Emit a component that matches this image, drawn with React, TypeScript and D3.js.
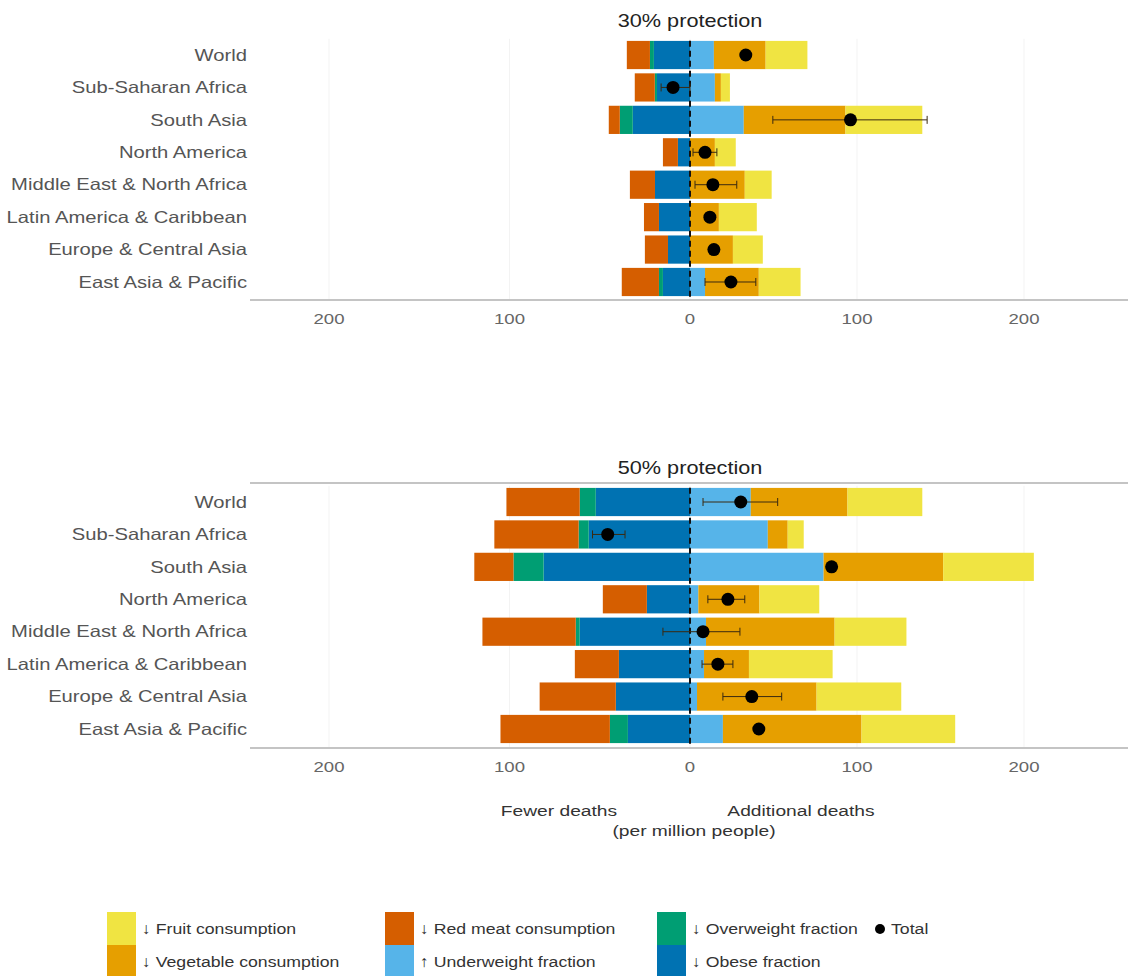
import React from "react";
import * as d3 from "d3";

const regions = [
  "World",
  "Sub-Saharan Africa",
  "South Asia",
  "North America",
  "Middle East & North Africa",
  "Latin America & Caribbean",
  "Europe & Central Asia",
  "East Asia & Pacific",
];

// 30% protection
const obese30 = [20, 18.3, 31.7, 6.7, 19.4, 17.2, 12.2, 15];
const overweight30 = [2.2, 1.2, 7.2, 0, 0, 0, 0, 2.2];
const redMeat30 = [12.8, 11.1, 6.1, 8.3, 13.9, 8.3, 12.8, 20.6];
const underweight30 = [14.3, 14.9, 32.2, 0, 0, 0, 0, 9];
const vegetable30 = [31, 3.6, 60.9, 14.9, 32.8, 17.3, 25.7, 32.2];
const fruit30 = [25, 5.4, 46, 12.5, 16.1, 22.7, 17.9, 25];
const total30 = [33.4, -9.4, 96.1, 9, 13.7, 11.9, 14.3, 24.5];
const lower30: (number | null)[] = [null, -16, 49.6, 1.8, 3, null, null, 9];
const upper30: (number | null)[] = [null, 0, 142, 16.1, 28, null, null, 39.4];

// 50% protection
const obese50 = [52.2, 56.1, 81.1, 23.9, 61.1, 39.4, 41.1, 34.4];
const overweight50 = [8.9, 5.6, 16.7, 0, 2.2, 0, 0, 10];
const redMeat50 = [40.6, 46.7, 21.7, 24.4, 51.7, 24.4, 42.2, 60.6];
const underweight50 = [36.4, 46.6, 80, 5, 9.6, 8.4, 4.2, 19.7];
const vegetable50 = [57.9, 11.9, 71.6, 36.6, 77, 26.9, 71.6, 83];
const fruit50 = [44.8, 9.6, 54.3, 35.8, 43, 50.1, 50.7, 56.1];
const total50 = [30.4, -45.6, 84.8, 22.7, 7.8, 16.7, 37, 41.2];
const lower50: (number | null)[] = [7.8, -54, null, 10.7, -15, 7.2, 19.7, null];
const upper50: (number | null)[] = [52.5, -36, null, 32.8, 29.9, 25.7, 54.9, null];

const tickValues = [-200, -100, 0, 100, 200];
const tickLabels = ["200", "100", "0", "100", "200"];

const COLORS = {
  fruit: "#F0E442",
  vegetable: "#E69F00",
  redMeat: "#D55E00",
  underweight: "#56B4E9",
  overweight: "#009E73",
  obese: "#0072B2",
};

const legendItems = [
  { label: "↓ Fruit consumption", color: COLORS.fruit, col: 0, row: 0 },
  { label: "↓ Vegetable consumption", color: COLORS.vegetable, col: 0, row: 1 },
  { label: "↓ Red meat consumption", color: COLORS.redMeat, col: 1, row: 0 },
  { label: "↑ Underweight fraction", color: COLORS.underweight, col: 1, row: 1 },
  { label: "↓ Overweight fraction", color: COLORS.overweight, col: 2, row: 0 },
  { label: "↓ Obese fraction", color: COLORS.obese, col: 2, row: 1 },
];

const FONT = "'Liberation Sans', Arial, Helvetica, sans-serif";
const SX = 1.24; // horizontal stretch of the text in the reference

const panels = [
  {
    title: "30% protection",
    titleY: 27,
    band: [38.8, 298.2],
    axisY: 300,
    topLine: null as number | null,
    neg: [obese30, overweight30, redMeat30],
    pos: [underweight30, vegetable30, fruit30],
    total: total30,
    lower: lower30,
    upper: upper30,
  },
  {
    title: "50% protection",
    titleY: 474,
    band: [485.8, 745.2],
    axisY: 748,
    topLine: 483,
    neg: [obese50, overweight50, redMeat50],
    pos: [underweight50, vegetable50, fruit50],
    total: total50,
    lower: lower50,
    upper: upper50,
  },
];

const negColors = [COLORS.obese, COLORS.overweight, COLORS.redMeat];
const posColors = [COLORS.underweight, COLORS.vegetable, COLORS.fruit];

const x = d3.scaleLinear().domain([-200, 0, 200]).range([329, 690, 1024]);
const AXIS_X0 = 250;
const AXIS_X1 = 1128;

function T({
  x,
  y,
  anchor = "start",
  size = 15.5,
  fill = "#333",
  dy,
  sx = SX,
  children,
}: {
  x: number;
  y: number;
  anchor?: string;
  size?: number;
  fill?: string;
  dy?: string;
  sx?: number;
  children: React.ReactNode;
}) {
  return (
    <text
      transform={`translate(${x},${y}) scale(${sx},1)`}
      x={0}
      y={0}
      dy={dy}
      textAnchor={anchor as any}
      fontFamily={FONT}
      fontSize={size}
      fill={fill}
    >
      {children}
    </text>
  );
}

function Panel({ p }: { p: (typeof panels)[number] }) {
  const y = d3
    .scaleBand<string>()
    .domain(regions)
    .range(p.band as [number, number])
    .paddingInner(0.13)
    .paddingOuter(0.065);
  const bw = y.bandwidth();
  const rects: React.ReactNode[] = [];
  regions.forEach((r, i) => {
    let acc = 0;
    p.neg.forEach((arr, k) => {
      const v = arr[i];
      if (v > 0) {
        rects.push(
          <rect
            key={`n${i}-${k}`}
            x={x(-(acc + v))}
            y={y(r)!}
            width={x(-acc) - x(-(acc + v))}
            height={bw}
            fill={negColors[k]}
          />
        );
      }
      acc += v;
    });
    acc = 0;
    p.pos.forEach((arr, k) => {
      const v = arr[i];
      if (v > 0) {
        rects.push(
          <rect
            key={`p${i}-${k}`}
            x={x(acc)}
            y={y(r)!}
            width={x(acc + v) - x(acc)}
            height={bw}
            fill={posColors[k]}
          />
        );
      }
      acc += v;
    });
  });
  return (
    <g>
      {tickValues.map((t) => (
        <line
          key={`g${t}`}
          x1={x(t)}
          x2={x(t)}
          y1={p.band[0]}
          y2={p.axisY}
          stroke="#f3f3f3"
          strokeWidth={1}
        />
      ))}
      <T x={x(0)} y={p.titleY} anchor="middle" size={17.5} fill="#222">
        {p.title}
      </T>
      {p.topLine !== null && (
        <line x1={AXIS_X0} x2={AXIS_X1} y1={p.topLine} y2={p.topLine} stroke="#c4c4c4" strokeWidth={2} />
      )}
      {regions.map((r) => (
        <T key={r} x={247} y={y(r)! + bw / 2} dy="0.35em" anchor="end" size={16.3} fill="#555">
          {r}
        </T>
      ))}
      {rects}
      <line
        x1={x(0)}
        x2={x(0)}
        y1={p.band[0] + 2}
        y2={p.axisY}
        stroke="#111"
        strokeWidth={2}
        strokeDasharray="6,4"
      />
      {regions.map((r, i) => {
        const lo = p.lower[i];
        const hi = p.upper[i];
        const cy = y(r)! + bw / 2;
        return (
          <g key={`e${r}`}>
            {lo !== null && hi !== null && (
              <g stroke="#3a2a10" strokeWidth={1}>
                <line x1={x(lo)} x2={x(hi)} y1={cy} y2={cy} />
                <line x1={x(lo)} x2={x(lo)} y1={cy - 4} y2={cy + 4} />
                <line x1={x(hi)} x2={x(hi)} y1={cy - 4} y2={cy + 4} />
              </g>
            )}
            <circle cx={x(p.total[i])} cy={cy} r={6.5} fill="#000" />
          </g>
        );
      })}
      <line x1={AXIS_X0} x2={AXIS_X1} y1={p.axisY} y2={p.axisY} stroke="#c4c4c4" strokeWidth={2} />
      {tickValues.map((t, i) => (
        <T key={`t${t}`} x={x(t)} y={p.axisY + 24} anchor="middle" size={15} fill="#666">
          {tickLabels[i]}
        </T>
      ))}
    </g>
  );
}

export default function App() {
  const colX = [107, 385, 657];
  const rowY = [912, 945];
  return (
    <svg
      width={1128}
      height={976}
      style={{ position: "absolute", left: 0, top: 0, display: "block", background: "#fff" }}
    >
      <rect x={0} y={0} width={1128} height={976} fill="#fff" />
      {panels.map((p) => (
        <Panel key={p.title} p={p} />
      ))}
      <T x={559} y={816} anchor="middle">
        Fewer deaths
      </T>
      <T x={801} y={816} anchor="middle">
        Additional deaths
      </T>
      <T x={694} y={836} anchor="middle">
        (per million people)
      </T>
      {legendItems.map((it) => (
        <g key={it.label}>
          <rect x={colX[it.col]} y={rowY[it.row]} width={29} height={33} fill={it.color} />
          <T x={colX[it.col] + 35} y={rowY[it.row] + 17} dy="0.35em" sx={1.14}>
            {it.label}
          </T>
        </g>
      ))}
      <circle cx={880} cy={929} r={5} fill="#000" />
      <T x={891} y={929} dy="0.35em" sx={1.14}>
        Total
      </T>
    </svg>
  );
}
